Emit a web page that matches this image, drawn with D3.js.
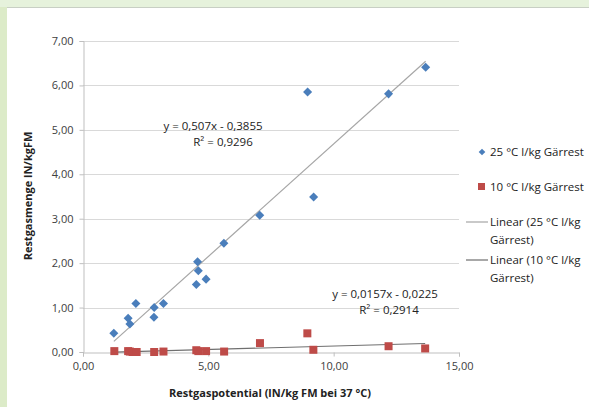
<html>
<script src="https://cdnjs.cloudflare.com/ajax/libs/d3/7.8.5/d3.min.js"></script>
<body style="margin:0">
<script>
    // data
    var x25 = [1.23, 1.80, 1.87, 2.11, 2.84, 2.83, 3.21, 4.57, 4.60, 4.52, 4.91, 5.62, 7.05, 8.96, 9.20, 12.19, 13.67]
    var y25 = [0.42, 0.76, 0.63, 1.09, 1.00, 0.78, 1.09, 2.03, 1.83, 1.52, 1.64, 2.45, 3.08, 5.85, 3.49, 5.81, 6.41]
    var x10 = [1.25, 1.80, 1.87, 1.98, 2.14, 2.84, 3.21, 4.52, 4.60, 4.91, 5.63, 7.06, 8.95, 9.19, 12.19, 13.65]
    var y10 = [0.02, 0.02, 0.01, 0.00, 0.00, 0.00, 0.01, 0.04, 0.02, 0.02, 0.01, 0.20, 0.42, 0.05, 0.13, 0.08]
    var fits = [[0.507, -0.3855], [0.0157, -0.0225]]
    var fitLabels = [['y = 0,507x - 0,3855', 'R² = 0,9296'], ['y = 0,0157x - 0,0225', 'R² = 0,2914']]
    var xTicks = [0, 5, 10, 15]
    var yTicks = [0, 1, 2, 3, 4, 5, 6, 7]
    var legendNames = ['25 °C l/kg Gärrest', '10 °C l/kg Gärrest', ['Linear (25 °C l/kg', 'Gärrest)'], ['Linear (10 °C l/kg', 'Gärrest)']]

    var width = 589, height = 407
    var font = '"Open Sans", "Liberation Sans", sans-serif'
    var svg = d3.select('body').append('svg').attr('width', width).attr('height', height)
        .style('display', 'block').style('font-family', font)

    // slide background
    svg.append('rect').attr('width', width).attr('height', height).attr('fill', '#dcebc8')
    svg.append('rect').attr('x', 0).attr('y', 0).attr('width', width).attr('height', 7).attr('fill', '#e6f2dc')
    svg.append('rect').attr('x', 7).attr('y', 7).attr('width', width - 7).attr('height', height - 7).attr('fill', '#ffffff')
    svg.append('line').attr('x1', 7).attr('x2', width).attr('y1', 7.5).attr('y2', 7.5).attr('stroke', '#c8cfc4')

    var x = d3.scaleLinear().domain([0, 15]).range([83, 459])
    var y = d3.scaleLinear().domain([0, 7]).range([352, 41])

    // gridlines
    svg.append('g').selectAll('line').data(yTicks.slice(1)).enter().append('line')
        .attr('x1', x(0)).attr('x2', x(15)).attr('y1', function(d){return Math.round(y(d)) + 0.5})
        .attr('y2', function(d){return Math.round(y(d)) + 0.5}).attr('stroke', '#d9d9d9')

    var yAxis = svg.append('g').attr('transform', 'translate(' + (x(0) + 0.5) + ',0)')
        .call(d3.axisLeft(y).tickValues(yTicks).tickSize(4).tickPadding(6)
            .tickFormat(function(d){return d3.format('.2f')(d).replace('.', ',')}))
    var xAxis = svg.append('g').attr('transform', 'translate(0,' + (y(0) + 0.5) + ')')
        .call(d3.axisBottom(x).tickValues(xTicks).tickSize(4).tickPadding(6)
            .tickFormat(function(d){return d3.format('.2f')(d).replace('.', ',')}))
    ;[yAxis, xAxis].forEach(function(a){
        a.select('.domain').attr('stroke', '#bfbfbf')
        a.selectAll('line').attr('stroke', '#bfbfbf')
        a.selectAll('text').attr('fill', '#404040').style('font-family', font).attr('font-size', 11)
    })
    xAxis.selectAll('.tick line').attr('y2', 4)

    // trendlines
    var trendColors = ['#a6a6a6', '#6f6f6f']
    var xsets = [x25, x10]
    fits.forEach(function(f, i){
        var ext = d3.extent(xsets[i])
        svg.append('line').attr('x1', x(ext[0])).attr('y1', y(f[0] * ext[0] + f[1]))
            .attr('x2', x(ext[1])).attr('y2', y(f[0] * ext[1] + f[1]))
            .attr('stroke', trendColors[i]).attr('stroke-width', 1.2)
    })

    // points
    var diamond = d3.symbol().type(d3.symbolDiamond2).size(52)
    svg.append('g').selectAll('path').data(d3.zip(x25, y25)).enter().append('path')
        .attr('d', diamond).attr('transform', function(d){return 'translate(' + x(d[0]) + ',' + y(d[1]) + ')'})
        .attr('fill', '#4a7ebb')
    svg.append('g').selectAll('rect').data(d3.zip(x10, y10)).enter().append('rect')
        .attr('x', function(d){return x(d[0]) - 4}).attr('y', function(d){return y(d[1]) - 4})
        .attr('width', 8).attr('height', 8).attr('fill', '#be4b48')

    // equations
    var eqPos = [[213, 130, 223, 146], [385, 298, 389, 314]]
    fitLabels.forEach(function(l, i){
        svg.append('text').attr('x', eqPos[i][0]).attr('y', eqPos[i][1]).attr('text-anchor', 'middle')
            .attr('font-size', 11.5).attr('fill', '#222').text(l[0])
        svg.append('text').attr('x', eqPos[i][2]).attr('y', eqPos[i][3]).attr('text-anchor', 'middle')
            .attr('font-size', 11.5).attr('fill', '#222').text(l[1])
    })

    // axis titles
    svg.append('text').attr('x', 270).attr('y', 397).attr('text-anchor', 'middle')
        .attr('font-size', 11).attr('font-weight', 'bold').attr('fill', '#222').text('Restgaspotential (lN/kg FM bei 37 °C)')
    svg.append('text').attr('transform', 'translate(32,196) rotate(-90)').attr('text-anchor', 'middle')
        .attr('font-size', 11).attr('font-weight', 'bold').attr('fill', '#222').text('Restgasmenge lN/kgFM')

    // legend
    var lg = svg.append('g').attr('font-size', 11.5).attr('fill', '#222')
    lg.append('path').attr('d', d3.symbol().type(d3.symbolDiamond2).size(28))
        .attr('transform', 'translate(482,152)').attr('fill', '#4a7ebb')
    lg.append('text').attr('x', 490).attr('y', 156).text(legendNames[0])
    lg.append('rect').attr('x', 478).attr('y', 183).attr('width', 7).attr('height', 7).attr('fill', '#be4b48')
    lg.append('text').attr('x', 490).attr('y', 191).text(legendNames[1])
    var ly = [222, 260]
    ly.forEach(function(yy, i){
        lg.append('line').attr('x1', 466).attr('x2', 488).attr('y1', yy).attr('y2', yy).attr('stroke', trendColors[i]).attr('stroke-width', 1.2)
        lg.append('text').attr('x', 490).attr('y', yy + 4).text(legendNames[i + 2][0])
        lg.append('text').attr('x', 490).attr('y', yy + 22).text(legendNames[i + 2][1])
    })
</script>
</body>
</html>
